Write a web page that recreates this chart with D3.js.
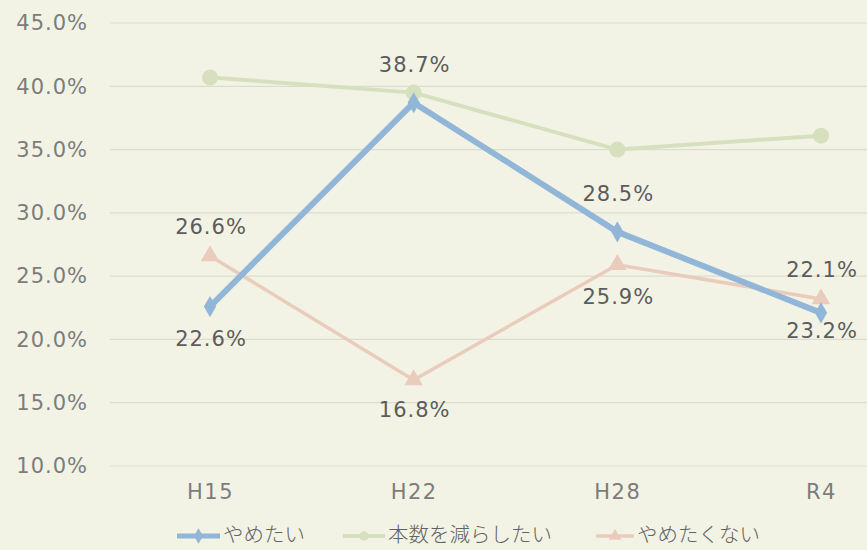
<!DOCTYPE html>
<html>
<head>
<meta charset="utf-8">
<script src="https://cdn.jsdelivr.net/npm/d3@7"></script>
<style>
  body { margin: 0; background: #f2f3e5; }
  svg { display: block; }
</style>
</head>
<body>
<div id="chart"></div>
<script>
var years = ["H15", "H22", "H28", "R4"];
var yTicks = [10, 15, 20, 25, 30, 35, 40, 45];
var quitValues = [22.6, 38.7, 28.5, 22.1];
var reduceValues = [40.7, 39.5, 35.0, 36.1];
var keepValues = [26.6, 16.8, 25.9, 23.2];
var seriesNames = ["やめたい", "本数を減らしたい", "やめたくない"];

var width = 867, height = 550;
var font = "'DejaVu Sans', 'Noto Sans CJK JP', sans-serif";
var jpFont = "'Noto Sans CJK JP', sans-serif";

var svg = d3.select("#chart").append("svg")
    .attr("width", width)
    .attr("height", height);

svg.append("rect").attr("width", width).attr("height", height).attr("fill", "#f2f3e5");

var x = d3.scalePoint().domain(years).range([210, 821]);
var y = d3.scaleLinear().domain([10, 45]).range([466, 23]);

// gridlines
svg.append("g")
    .selectAll("line")
    .data(yTicks)
    .enter().append("line")
    .attr("x1", 110).attr("x2", width)
    .attr("y1", function(d) { return y(d); })
    .attr("y2", function(d) { return y(d); })
    .attr("stroke", "#dcddcf")
    .attr("stroke-width", 1.2);

// y axis labels
var yAxis = svg.append("g")
    .attr("transform", "translate(98,0)")
    .call(d3.axisLeft(y).tickValues(yTicks).tickSize(0).tickPadding(10)
        .tickFormat(function(d) { return d.toFixed(1) + "%"; }));
yAxis.select(".domain").remove();
yAxis.selectAll("text")
    .attr("font-family", font)
    .attr("font-size", 21)
    .attr("letter-spacing", 1)
    .attr("fill", "#7c7c7c");

// x axis labels
var xAxis = svg.append("g")
    .attr("transform", "translate(0,479)")
    .call(d3.axisBottom(x).tickSize(0).tickPadding(5));
xAxis.select(".domain").remove();
xAxis.selectAll("text")
    .attr("font-family", font)
    .attr("font-size", 21)
    .attr("letter-spacing", 1.5)
    .attr("fill", "#7c7c7c");

var line = d3.line()
    .x(function(d, i) { return x(years[i]); })
    .y(function(d) { return y(d); });

// green series
svg.append("path")
    .datum(reduceValues)
    .attr("fill", "none")
    .attr("stroke", "#d6e0be")
    .attr("stroke-width", 4)
    .attr("d", line);
svg.append("g").selectAll("circle")
    .data(reduceValues)
    .enter().append("circle")
    .attr("cx", function(d, i) { return x(years[i]); })
    .attr("cy", function(d) { return y(d); })
    .attr("r", 8)
    .attr("fill", "#d6e0be");

// pink series
svg.append("path")
    .datum(keepValues)
    .attr("fill", "none")
    .attr("stroke", "#eaccbd")
    .attr("stroke-width", 3.5)
    .attr("d", line);
svg.append("g").selectAll("path")
    .data(keepValues)
    .enter().append("path")
    .attr("transform", function(d, i) { return "translate(" + x(years[i]) + "," + y(d) + ")"; })
    .attr("d", d3.symbol().type(d3.symbolTriangle).size(150))
    .attr("fill", "#eaccbd");

// blue series
svg.append("path")
    .datum(quitValues)
    .attr("fill", "none")
    .attr("stroke", "#92b6d7")
    .attr("stroke-width", 6)
    .attr("stroke-linejoin", "round")
    .attr("d", line);
svg.append("g").selectAll("path")
    .data(quitValues)
    .enter().append("path")
    .attr("transform", function(d, i) { return "translate(" + x(years[i]) + "," + y(d) + ")"; })
    .attr("d", d3.symbol().type(d3.symbolDiamond).size(130))
    .attr("fill", "#92b6d7");

// data labels
var quitOffsets = [33, -37, -37, -42];
var keepOffsets = [-28, 31, 33, 33];
function addLabels(values, offsets) {
    svg.append("g").selectAll("text")
        .data(values)
        .enter().append("text")
        .attr("x", function(d, i) { return x(years[i]) + 1; })
        .attr("y", function(d, i) { return y(d) + offsets[i]; })
        .attr("text-anchor", "middle")
        .attr("dominant-baseline", "middle")
        .attr("font-family", font)
        .attr("font-size", 21)
        .attr("letter-spacing", 1)
        .attr("fill", "#5c5c5c")
        .text(function(d) { return d.toFixed(1) + "%"; });
}
addLabels(quitValues, quitOffsets);
addLabels(keepValues, keepOffsets);

// legend
var legendX = [177, 343, 596];
var legendLen = [43, 42, 38];
var legendColors = ["#92b6d7", "#d6e0be", "#eaccbd"];
var legendWidths = [5, 4, 3.5];
var legendSymbols = [d3.symbolDiamond, d3.symbolCircle, d3.symbolTriangle];
var legend = svg.append("g").selectAll("g")
    .data(seriesNames)
    .enter().append("g")
    .attr("transform", function(d, i) { return "translate(" + legendX[i] + ",536)"; });
legend.append("line")
    .attr("x1", 0)
    .attr("x2", function(d, i) { return legendLen[i]; })
    .attr("stroke", function(d, i) { return legendColors[i]; })
    .attr("stroke-width", function(d, i) { return legendWidths[i]; });
legend.append("path")
    .attr("transform", function(d, i) { return "translate(" + legendLen[i] / 2 + ",0)"; })
    .attr("d", function(d, i) { return d3.symbol().type(legendSymbols[i]).size(70)(); })
    .attr("fill", function(d, i) { return legendColors[i]; });
legend.append("text")
    .attr("x", function(d, i) { return legendLen[i] + 3; })
    .attr("dominant-baseline", "middle")
    .attr("font-family", jpFont)
    .attr("font-size", 20.5)
    .attr("font-weight", 300)
    .attr("fill", "#626262")
    .text(function(d) { return d; });
</script>
</body>
</html>
